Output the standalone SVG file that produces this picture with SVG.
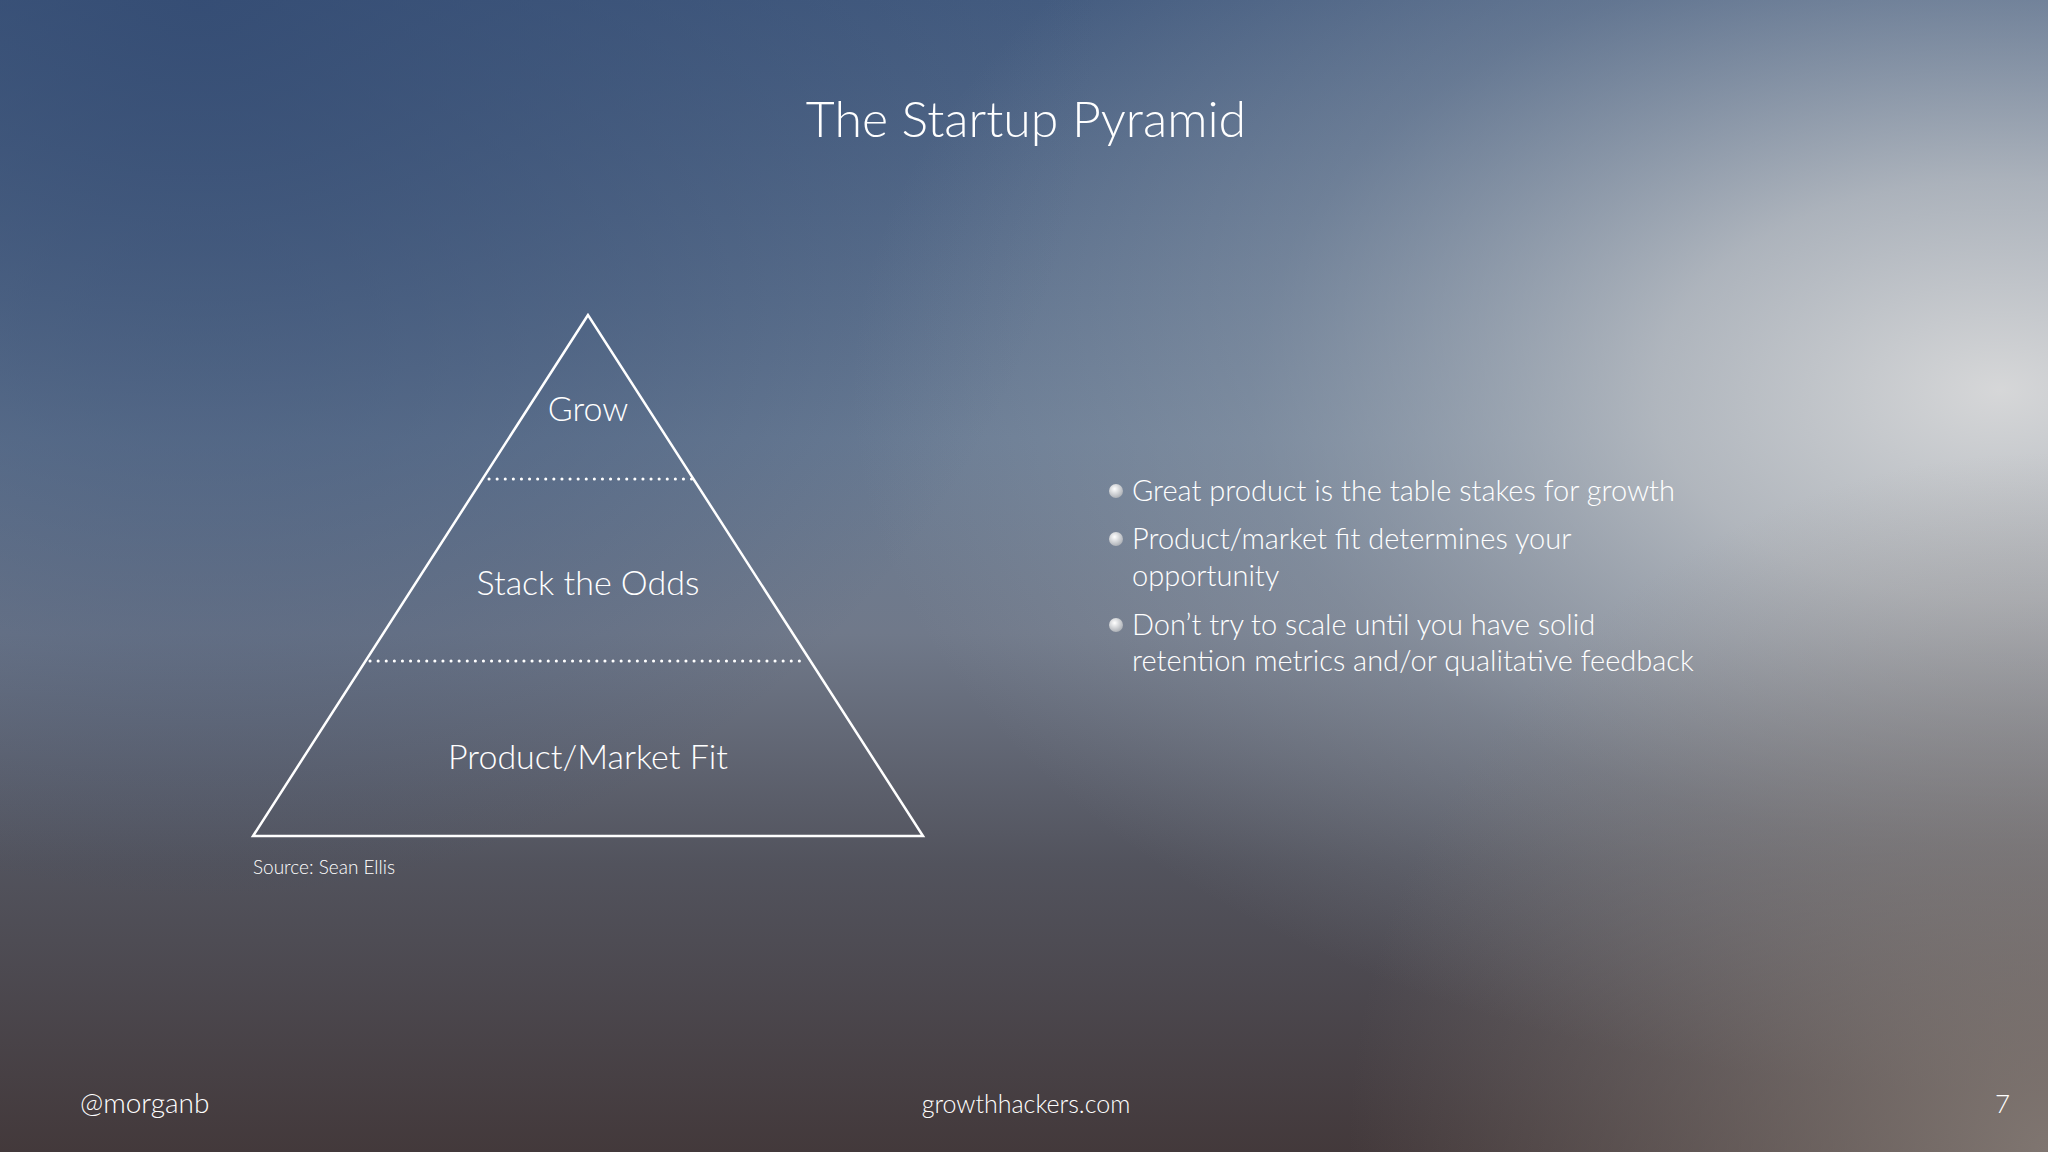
<svg xmlns="http://www.w3.org/2000/svg" width="2048" height="1152" viewBox="0 0 2048 1152">
  <defs>
    <linearGradient id="bgV" x1="0" y1="0" x2="0" y2="1">
      <stop offset="0" stop-color="#445c80"/>
      <stop offset="0.38" stop-color="#6a7c94"/>
      <stop offset="0.55" stop-color="#70798a"/>
      <stop offset="0.75" stop-color="#52535d"/>
      <stop offset="1" stop-color="#43393b"/>
    </linearGradient>
    <radialGradient id="glow" cx="0" cy="0" r="1" gradientUnits="userSpaceOnUse" gradientTransform="translate(2000,390) scale(1150,700)">
      <stop offset="0" stop-color="#dcdcdc" stop-opacity="0.95"/>
      <stop offset="0.3" stop-color="#c8cacc" stop-opacity="0.75"/>
      <stop offset="0.65" stop-color="#aab2ba" stop-opacity="0.3"/>
      <stop offset="1" stop-color="#a0aab4" stop-opacity="0"/>
    </radialGradient>
    <radialGradient id="darkTL" cx="200" cy="0" r="900" gradientUnits="userSpaceOnUse">
      <stop offset="0" stop-color="#324a72" stop-opacity="0.8"/>
      <stop offset="1" stop-color="#324a72" stop-opacity="0"/>
    </radialGradient>
    <radialGradient id="warmBR" cx="2048" cy="1152" r="700" gradientUnits="userSpaceOnUse">
      <stop offset="0" stop-color="#867c76" stop-opacity="0.9"/>
      <stop offset="1" stop-color="#867c76" stop-opacity="0"/>
    </radialGradient>
    <radialGradient id="bullet" cx="0.4" cy="0.35" r="0.7">
      <stop offset="0" stop-color="#ffffff"/>
      <stop offset="1" stop-color="#a8acb2"/>
    </radialGradient>
    <style>
      text { font-family: "Lato", "Liberation Sans", sans-serif; font-weight: 300; fill: #ffffff; }
      .title { font-size: 50px; text-anchor: middle; }
      .lvl { font-size: 34px; text-anchor: middle; }
      .bul { font-size: 29px; }
      .src { font-size: 19px; }
      .foot { font-size: 26px; }
      .shape { fill: none; stroke: #ffffff; stroke-width: 2.5; }
      .dots { stroke: #ffffff; stroke-width: 3; stroke-dasharray: 0.1 8; stroke-linecap: round; }
    </style>
  </defs>

  <rect x="0" y="0" width="2048" height="1152" fill="url(#bgV)"/>
  <rect x="0" y="0" width="2048" height="1152" fill="url(#darkTL)"/>
  <rect x="0" y="0" width="2048" height="1152" fill="url(#glow)"/>
  <rect x="0" y="0" width="2048" height="1152" fill="url(#warmBR)"/>

  <text class="title" x="1026" y="137">The Startup Pyramid</text>

  <g id="pyramid">
    <polygon class="shape" points="588,315 253,836 923,836"/>
  </g>
  <g id="connectors">
    <line class="dots" x1="489" y1="479" x2="692" y2="479"/>
    <line class="dots" x1="370" y1="661" x2="806" y2="661"/>
  </g>
  <g id="grow">
    <text class="lvl" x="588" y="421">Grow</text>
  </g>
  <g id="stack">
    <text class="lvl" x="588" y="595">Stack the Odds</text>
  </g>
  <g id="pmf">
    <text class="lvl" x="588" y="769">Product/Market Fit</text>
  </g>

  <text class="src" x="253" y="874">Source: Sean Ellis</text>

  <g id="bullets">
    <circle cx="1116" cy="491" r="7" fill="url(#bullet)"/>
    <text class="bul" x="1132" y="501">Great product is the table stakes for growth</text>
    <circle cx="1116" cy="539" r="7" fill="url(#bullet)"/>
    <text class="bul" x="1132" y="549">Product/market fit determines your</text>
    <text class="bul" x="1132" y="586">opportunity</text>
    <circle cx="1116" cy="625" r="7" fill="url(#bullet)"/>
    <text class="bul" x="1132" y="635">Don’t try to scale until you have solid</text>
    <text class="bul" x="1132" y="671">retention metrics and/or qualitative feedback</text>
  </g>

  <text class="foot" x="80" y="1113" style="font-size:28px">@morganb</text>
  <text class="foot" x="1026" y="1113" text-anchor="middle" style="font-size:25px">growthhackers.com</text>
  <text class="foot" x="2010" y="1113" text-anchor="end">7</text>
</svg>
